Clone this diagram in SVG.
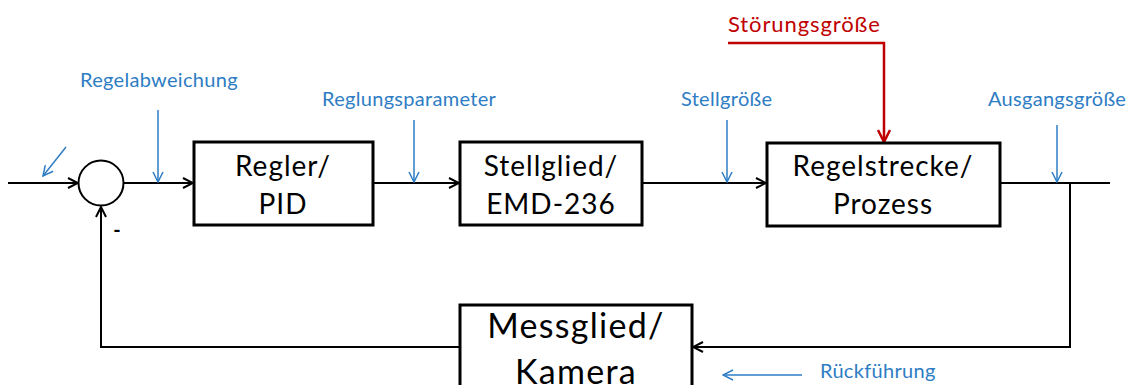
<svg xmlns="http://www.w3.org/2000/svg" width="1132" height="385" viewBox="0 0 1132 385">
  <style>
    .box { fill: #fff; stroke: #000; stroke-width: 3; }
    .wire { fill: none; stroke: #000; stroke-width: 2; }
    .sig { fill: none; stroke: #2e7dc4; stroke-width: 1.5; }
    .dist { fill: none; stroke: #c00000; stroke-width: 2.5; }
    .btxt { font-family: Lato, "Liberation Sans", sans-serif; font-size: 28px; letter-spacing: 1px; fill: #000; text-anchor: middle; }
    .mtxt { font-family: Lato, "Liberation Sans", sans-serif; font-size: 34px; letter-spacing: 1.3px; fill: #000; text-anchor: middle; }
    .lbl { font-family: Lato, "Liberation Sans", sans-serif; font-size: 20px; letter-spacing: 0.3px; fill: #2e7dc4; }
    .red { font-family: Lato, "Liberation Sans", sans-serif; font-size: 22px; letter-spacing: 0.9px; fill: #c00000; }
  </style>
  <defs>
    <marker id="ah" viewBox="0 0 12 12" refX="11" refY="6" markerWidth="12" markerHeight="12" markerUnits="userSpaceOnUse" orient="auto">
      <path d="M1,1 L11,6 L1,11" fill="none" stroke="#000" stroke-width="2"/>
    </marker>
    <marker id="ahb" viewBox="0 0 12 12" refX="11" refY="6" markerWidth="12" markerHeight="12" markerUnits="userSpaceOnUse" orient="auto">
      <path d="M1,1 L11,6 L1,11" fill="none" stroke="#2e7dc4" stroke-width="1.5"/>
    </marker>
    <marker id="ahr" viewBox="0 0 14 14" refX="13" refY="7" markerWidth="14" markerHeight="14" markerUnits="userSpaceOnUse" orient="auto">
      <path d="M1,1 L13,7 L1,13" fill="none" stroke="#c00000" stroke-width="2.5"/>
    </marker>
  </defs>

  <!-- signal connectors -->
  <g id="connectors">
    <line class="wire" x1="8" y1="183" x2="78" y2="183" marker-end="url(#ah)"/>
    <line class="wire" x1="124" y1="183" x2="193" y2="183" marker-end="url(#ah)"/>
    <line class="wire" x1="373" y1="183" x2="459" y2="183" marker-end="url(#ah)"/>
    <line class="wire" x1="642" y1="183" x2="766" y2="183" marker-end="url(#ah)"/>
    <line class="wire" x1="1000" y1="183" x2="1110" y2="183"/>
    <polyline class="wire" points="1070,183 1070,347 693,347" marker-end="url(#ah)"/>
    <polyline class="wire" points="460,347 101,347 101,207" marker-end="url(#ah)"/>
    <polyline class="dist" points="728,43 884,43 884,142" marker-end="url(#ahr)"/>
    <!-- signal name pointers -->
    <line class="sig" x1="66" y1="147" x2="43" y2="176" marker-end="url(#ahb)"/>
    <line class="sig" x1="158" y1="110" x2="158" y2="182" marker-end="url(#ahb)"/>
    <line class="sig" x1="414" y1="120" x2="414" y2="182" marker-end="url(#ahb)"/>
    <line class="sig" x1="727" y1="120" x2="727" y2="182" marker-end="url(#ahb)"/>
    <line class="sig" x1="1057" y1="125" x2="1057" y2="182" marker-end="url(#ahb)"/>
    <line class="sig" x1="802" y1="375" x2="723" y2="375" marker-end="url(#ahb)"/>
  </g>

  <g id="summing">
    <circle cx="101" cy="183" r="22.5" fill="#fff" stroke="#000" stroke-width="2"/>
    <text x="117" y="237" font-family="Lato, 'Liberation Sans', sans-serif" font-size="20" font-weight="bold" text-anchor="middle">-</text>
  </g>

  <g id="regler">
    <rect class="box" x="194" y="142" width="179" height="83"/>
    <text class="btxt" x="283" y="176">Regler/</text>
    <text class="btxt" x="283" y="214">PID</text>
  </g>

  <g id="stellglied">
    <rect class="box" x="460" y="142" width="182" height="83"/>
    <text class="btxt" x="551" y="176">Stellglied/</text>
    <text class="btxt" x="551" y="214">EMD-236</text>
  </g>

  <g id="regelstrecke">
    <rect class="box" x="767" y="143" width="233" height="83"/>
    <text class="btxt" x="883" y="176">Regelstrecke/</text>
    <text class="btxt" x="883" y="214">Prozess</text>
  </g>

  <g id="messglied">
    <rect class="box" x="460" y="305" width="232" height="95"/>
    <text class="mtxt" x="576" y="338">Messglied/</text>
    <text class="mtxt" x="576" y="384">Kamera</text>
  </g>

  <g id="labels">
    <text class="lbl" x="80" y="87">Regelabweichung</text>
    <text class="lbl" x="322" y="106">Reglungsparameter</text>
    <text class="lbl" x="681" y="106">Stellgröße</text>
    <text class="lbl" x="988" y="106">Ausgangsgröße</text>
    <text class="lbl" x="820" y="378">Rückführung</text>
    <text class="red" x="728" y="32">Störungsgröße</text>
  </g>
</svg>
